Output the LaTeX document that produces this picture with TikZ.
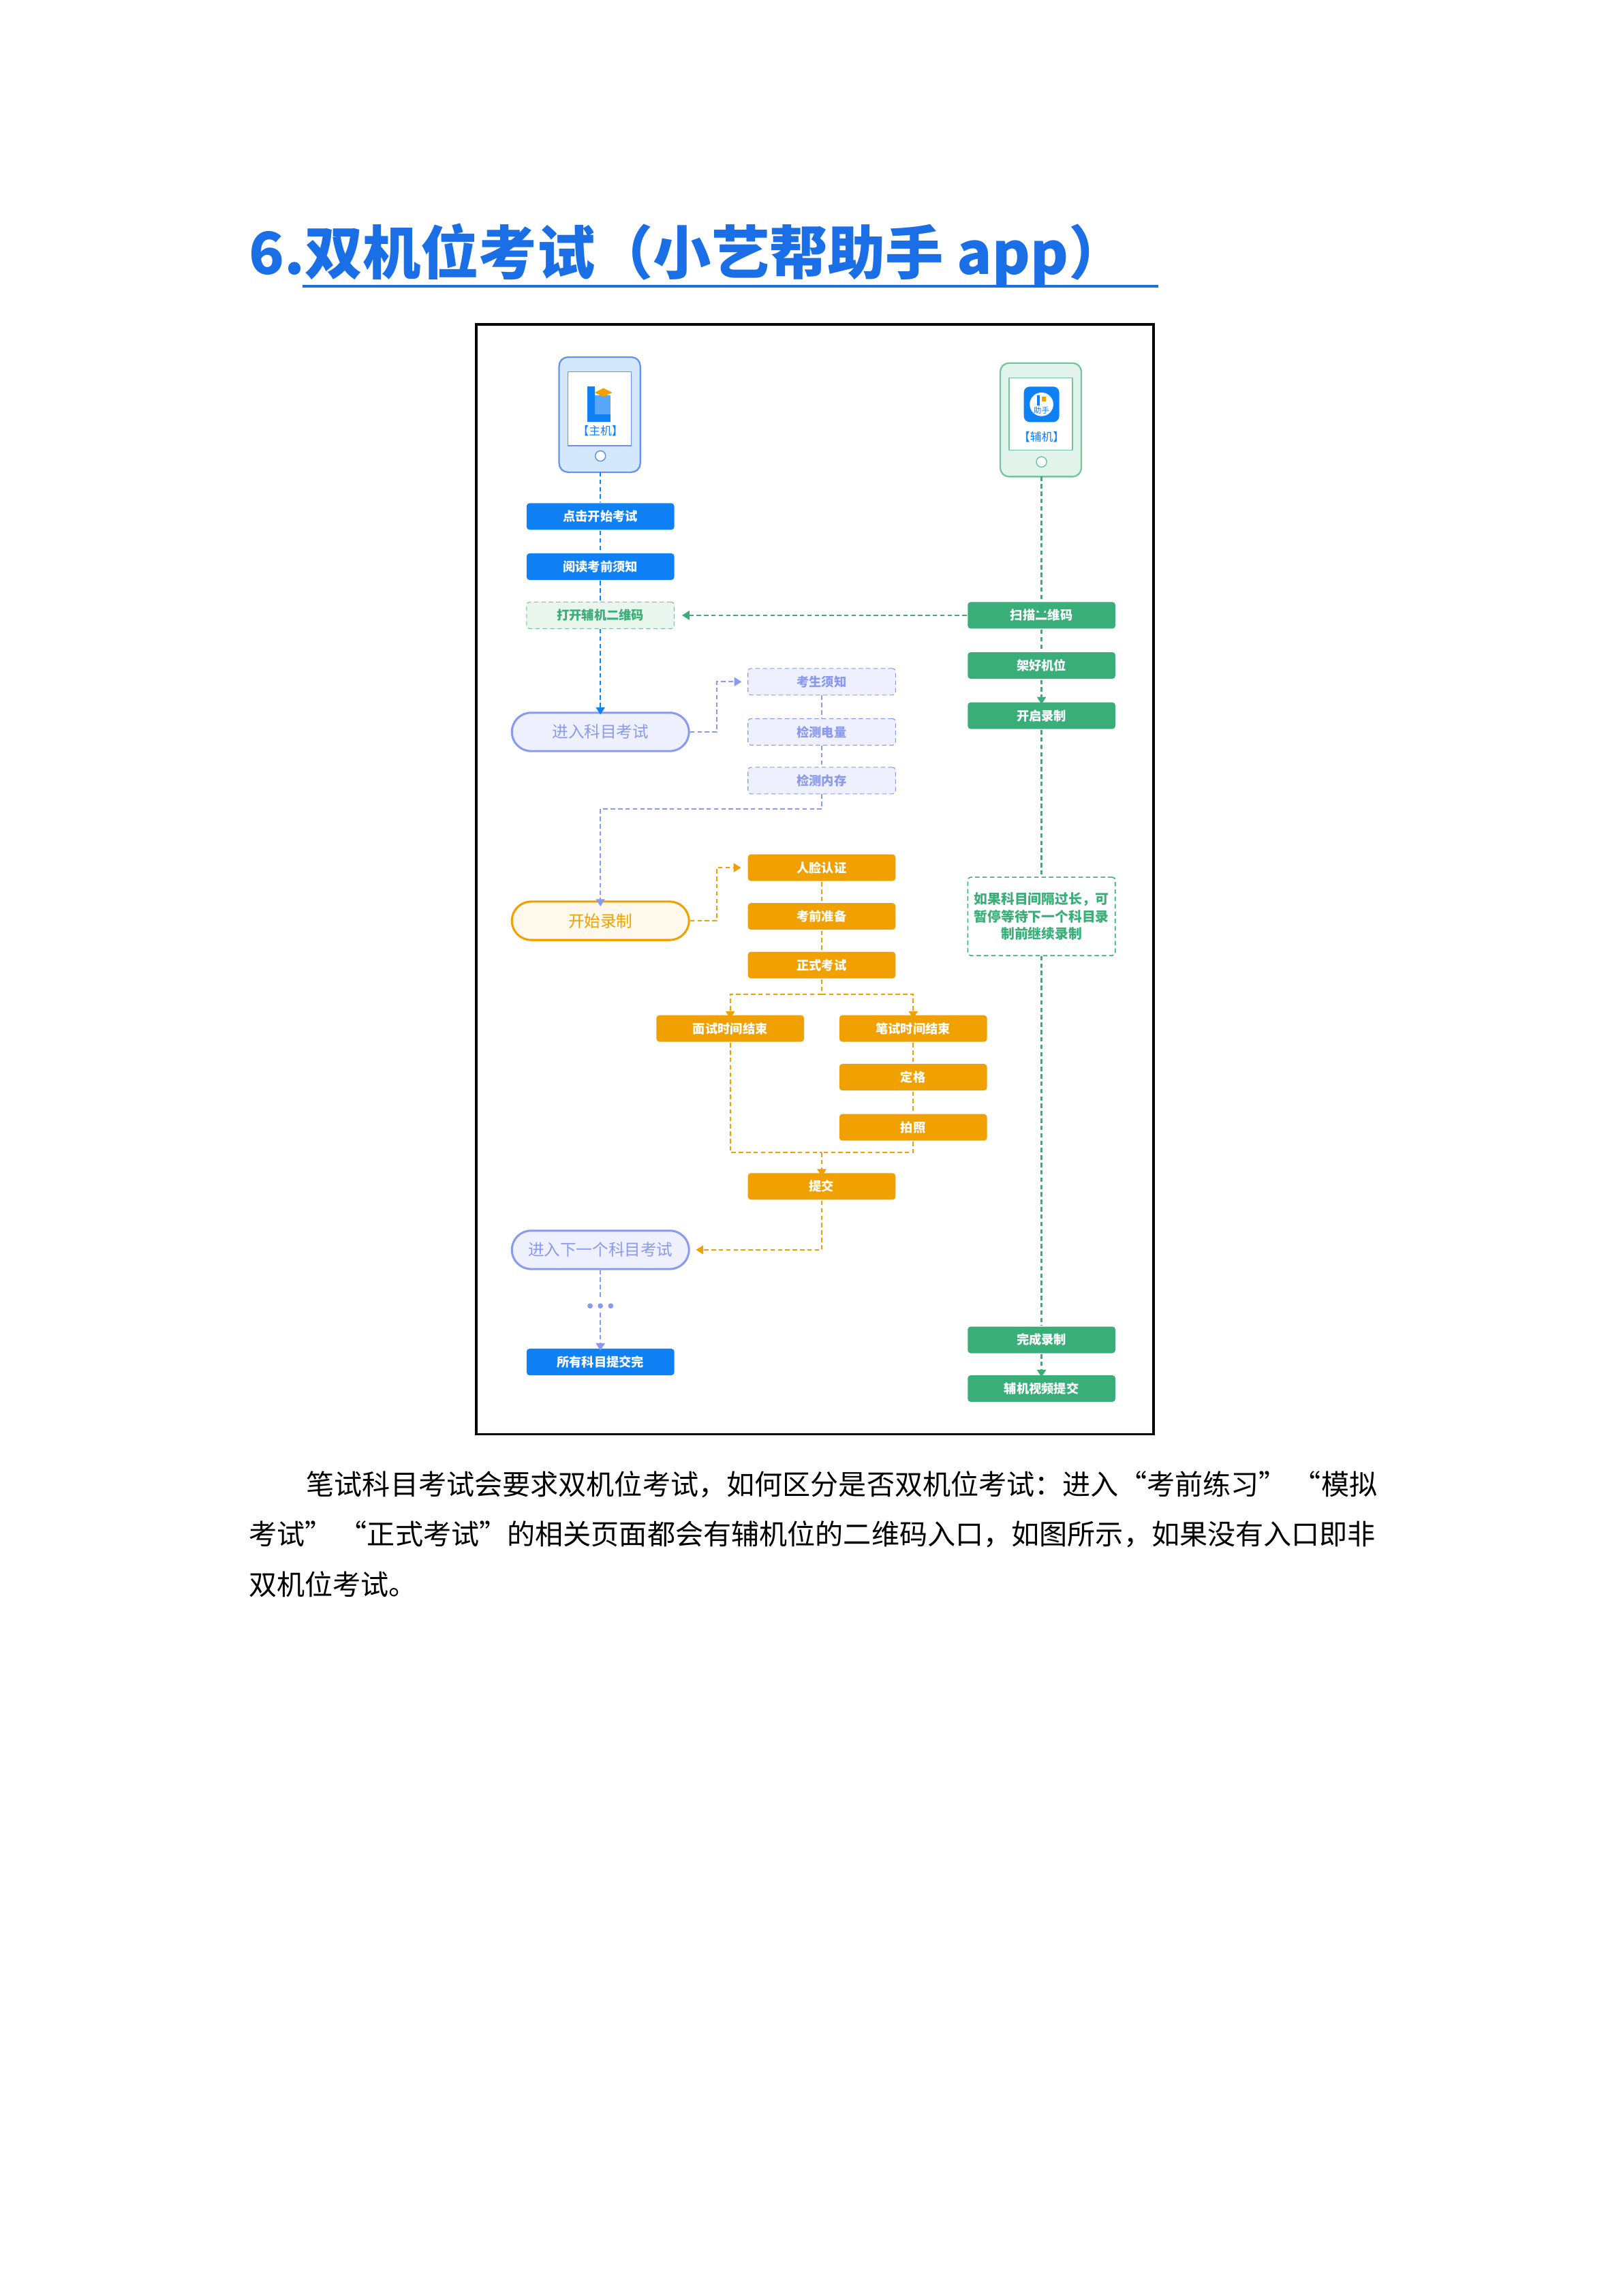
\documentclass[tikz,border=0pt]{standalone}
\usepackage{fontspec}
\setmainfont{Noto Sans CJK SC}
\usepackage{tikz}
\usetikzlibrary{calc,positioning,arrows.meta}
\definecolor{hblue}{HTML}{1A6EE6}
\definecolor{mblue}{HTML}{1080F5}
\definecolor{mgreen}{HTML}{3AAE78}
\definecolor{morange}{HTML}{F0A000}
\definecolor{lblue}{HTML}{8A9AF0}
\definecolor{lbluefill}{HTML}{EEF0FD}
\definecolor{lgreenfill}{HTML}{E8F6EE}
\definecolor{cream}{HTML}{FFF8EC}
\tikzset{
  box/.style={rectangle,rounded corners=0.02cm,minimum width=1cm,minimum height=0.18cm,inner sep=0pt,font=\fontsize{2.4}{2.8}\selectfont\bfseries},
  bluebox/.style={box,fill=mblue,text=white},
  greenbox/.style={box,fill=mgreen,text=white},
  orangebox/.style={box,fill=morange,text=white},
  checkbox/.style={box,draw=lblue,fill=lbluefill,dashed,dash pattern=on 0.03cm off 0.02cm,text=lblue,line width=0.15pt},
  pill/.style={rectangle,rounded corners=0.13cm,minimum width=1.2cm,minimum height=0.26cm,inner sep=0pt,line width=0.4pt,font=\fontsize{3.1}{3.5}\selectfont},
  link/.style={dashed,dash pattern=on 0.03cm off 0.02cm,line width=0.3pt},
  tip/.style={-{Triangle[length=0.05cm,width=0.06cm]}},
}
\begin{document}
\begin{tikzpicture}[x=0.01cm,y=-0.01cm]
\useasboundingbox (0,0) rectangle (1100,1556);
\fill[white] (0,0) rectangle (1100,1556);

% title
\node[anchor=base west,text=hblue,font=\fontsize{11.2}{12}\selectfont\bfseries,inner sep=0pt] (title) at (168,186) {6.双机位考试（小艺帮助手 app）};
\draw[hblue,line width=0.6pt] (205,194) -- (785,194);

% frame
\draw[black,line width=0.5pt] (323,220) rectangle (782,972);

% phones
\draw[lblue!70!mblue,fill=mblue!18,rounded corners=0.06cm,line width=0.3pt] (379,242) rectangle (434,320);
\draw[lblue!70!mblue,fill=white,line width=0.2pt] (385,252) rectangle (428,302);
\draw[lblue!70!mblue,fill=white,line width=0.2pt] (407,309) circle (3.5);
\fill[mblue] (398,262) rectangle (403,285);
\fill[mblue] (398,281) rectangle (414,286);
\fill[mblue!70] (403,268) rectangle (414,281);
\fill[morange] (403,266) -- (409,263) -- (415,266) -- (409,269) -- cycle;
\node[font=\fontsize{2.2}{2.6}\selectfont,text=mblue,inner sep=0pt] (mainlabel) at (407,292) {【主机】};

\draw[mgreen!70,fill=mgreen!15,rounded corners=0.06cm,line width=0.3pt] (678,246) rectangle (733,323);
\draw[mgreen!70,fill=white,line width=0.2pt] (684,256) rectangle (727,305);
\draw[mgreen!70,fill=white,line width=0.2pt] (706,313) circle (3.5);
\fill[mblue,rounded corners=0.04cm] (694,262) rectangle (718,286);
\fill[white] (706,274) circle (8);
\node[font=\fontsize{1.5}{1.8}\selectfont,text=mblue,inner sep=0pt] (helper) at (706,278) {助手};
\fill[mblue] (703,268) rectangle (705,275);
\fill[morange] (706,269) rectangle (709,272);
\node[font=\fontsize{2.2}{2.6}\selectfont,text=mblue,inner sep=0pt] (auxlabel) at (706,296) {【辅机】};
\coordinate (mainphone) at (407,320);
\coordinate (auxphone) at (706,323);

% left column
\node[bluebox] (start) at (407,350) {点击开始考试};
\node[bluebox] (read) at (407,384) {阅读考前须知};
\node[box,draw=mgreen!70,fill=lgreenfill,dashed,dash pattern=on 0.03cm off 0.02cm,line width=0.15pt,text=mgreen] (openqr) at (407,417) {打开辅机二维码};
\node[pill,draw=lblue,fill=lbluefill,text=lblue] (enter) at (407,496) {进入科目考试};
\node[checkbox] (notice) at (557,462) {考生须知};
\node[checkbox] (battery) at (557,496) {检测电量};
\node[checkbox] (memory) at (557,529) {检测内存};
\node[pill,draw=morange,fill=cream,text=morange] (record) at (407,624) {开始录制};
\node[orangebox] (face) at (557,588) {人脸认证};
\node[orangebox] (prep) at (557,621) {考前准备};
\node[orangebox] (exam) at (557,654) {正式考试};
\node[orangebox] (interview) at (495,697) {面试时间结束};
\node[orangebox] (written) at (619,697) {笔试时间结束};
\node[orangebox] (freeze) at (619,730) {定格};
\node[orangebox] (photo) at (619,764) {拍照};
\node[orangebox] (submit) at (557,804) {提交};
\node[pill,draw=lblue,fill=lbluefill,text=lblue] (next) at (407,847) {进入下一个科目考试};
\node[inner sep=0pt,minimum size=0.08cm] (dots) at (407,885) {};
\foreach \dx in {-7,0,7} \fill[lblue] (407+\dx,885) circle (1.8);
\node[bluebox] (allsub) at (407,923) {所有科目提交完};

% right column
\node[greenbox] (scan) at (706,417) {扫描二维码};
\node[greenbox] (mount) at (706,451) {架好机位};
\node[greenbox] (rec) at (706,485) {开启录制};
\node[box,draw=mgreen,dashed,dash pattern=on 0.03cm off 0.02cm,line width=0.2pt,text=mgreen,minimum height=0.53cm,align=center,font=\fontsize{2.6}{3.4}\selectfont\bfseries] (tipnote) at (706,621) {如果科目间隔过长，可\\暂停等待下一个科目录\\制前继续录制};
\node[greenbox] (done) at (706,908) {完成录制};
\node[greenbox] (auxsub) at (706,941) {辅机视频提交};

% blue links
\draw[link,mblue] (mainphone) -- (start);
\draw[link,mblue] (start) -- (read);
\draw[link,mblue] (read) -- (openqr);
\draw[link,tip,mblue] (openqr) -- ([yshift=-0.02cm]enter.north);
\draw[link,tip,lblue] (enter.east) -- ++(18,0) |- ([xshift=-0.04cm]notice.west);
\draw[link,lblue] (notice) -- (battery);
\draw[link,lblue] (battery) -- (memory);
\draw[link,tip,lblue] (memory.south) -- ++(0,10) -| ([yshift=-0.04cm]record.north);
\draw[link,lblue] (next) -- (dots);
\draw[link,tip,lblue] (dots) -- ([yshift=-0.02cm]allsub.north);

% orange links
\draw[link,tip,morange] (record.east) -- ++(18,0) |- ([xshift=-0.04cm]face.west);
\draw[link,morange] (face) -- (prep);
\draw[link,morange] (prep) -- (exam);
\draw[link,morange] (exam.south) -- ++(0,10) coordinate (split);
\draw[link,tip,morange] (split) -| ([yshift=-0.03cm]interview.north);
\draw[link,tip,morange] (split) -| ([yshift=-0.03cm]written.north);
\draw[link,morange] (written) -- (freeze);
\draw[link,morange] (freeze) -- (photo);
\draw[link,morange] (interview.south) |- (557,781) coordinate (merge);
\draw[link,morange] (photo.south) |- (merge);
\draw[link,tip,morange] (merge) -- ([yshift=-0.03cm]submit.north);
\draw[link,tip,morange] (submit.south) |- ([xshift=0.04cm]next.east);

% green links
\draw[link,tip,mgreen] (auxphone) -- ([yshift=-0.1cm]scan.north);
\draw[link,tip,mgreen] (scan.west) -- ([xshift=0.05cm]openqr.east);
\draw[link,mgreen] (scan) -- (mount);
\draw[link,tip,mgreen] (mount) -- ([yshift=-0.02cm]rec.north);
\draw[link,mgreen] (rec) -- (tipnote);
\draw[link,mgreen] (tipnote) -- (done);
\draw[link,tip,mgreen] (done) -- ([yshift=-0.02cm]auxsub.north);

% text below
\node[anchor=base west,inner sep=0pt,font=\fontsize{5.4}{6}\selectfont] (line1) at (207,1013) {笔试科目考试会要求双机位考试，如何区分是否双机位考试：进入“考前练习” “模拟};
\node[anchor=base west,inner sep=0pt,font=\fontsize{5.4}{6}\selectfont] (line2) at (168,1047) {考试” “正式考试”的相关页面都会有辅机位的二维码入口，如图所示，如果没有入口即非};
\node[anchor=base west,inner sep=0pt,font=\fontsize{5.4}{6}\selectfont] (line3) at (168,1081) {双机位考试。};
\end{tikzpicture}
\end{document}
